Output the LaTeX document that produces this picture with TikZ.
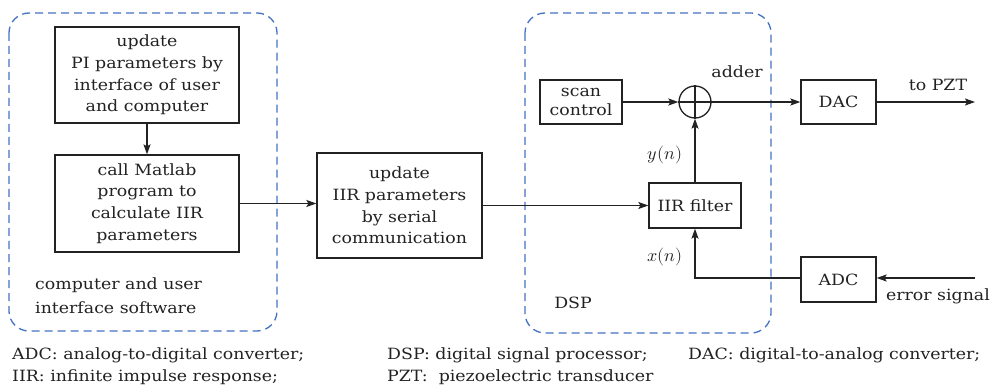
\documentclass[tikz,border=0pt]{standalone}
\usepackage{fontspec}
\setmainfont[FakeStretch=1.12]{DejaVu Serif}
\usepackage{unicode-math}
\setmathfont{Latin Modern Math}
\usetikzlibrary{arrows.meta}
\definecolor{dashblue}{HTML}{4472C4}
\definecolor{ink}{HTML}{222222}
\begin{document}
\begin{tikzpicture}[x=1pt,y=-1pt,
  every node/.style={font=\fontsize{15.5}{21.7}\selectfont, text=ink},
  blockbox/.style={draw=ink, line width=1.3pt, inner sep=0pt, align=center},
  conn/.style={draw=ink, line width=1.3pt, -{Stealth[length=10pt,width=7pt,inset=2pt]}},
  plainline/.style={draw=ink, line width=1.3pt},
  group/.style={draw=dashblue, line width=1.3pt, dash pattern=on 8pt off 5pt, rounded corners=20pt},
  lbl/.style={inner sep=0pt},
  legend/.style={inner sep=0pt, anchor=west, font=\fontsize{15.5}{20}\selectfont}]
\useasboundingbox (0,0) rectangle (992,387);
% groups
\draw[group] (9,13) rectangle (277,331);
\draw[group] (525,13) rectangle (771,333);
% blocks
\node[blockbox, minimum width=184pt, minimum height=96pt] (pi) at (147,75) {update\\PI parameters by\\interface of user\\and computer};
\node[blockbox, minimum width=184pt, minimum height=97pt] (mat) at (147,203.5) {call Matlab\\program to\\calculate IIR\\parameters};
\node[blockbox, minimum width=165pt, minimum height=105pt] (ser) at (399.5,205.5) {update\\IIR parameters\\by serial\\communication};
\node[blockbox, minimum width=82pt, minimum height=44pt, font=\fontsize{15.5}{18.5}\selectfont] (scan) at (581,102) {scan\\control};
\node[draw=ink, line width=1.3pt, circle, minimum size=32pt, inner sep=0pt] (add) at (695,102) {};
\draw[plainline] (add.north) -- (add.south) (add.west) -- (add.east);
\node[blockbox, minimum width=75pt, minimum height=44pt] (dac) at (838.5,102) {DAC};
\node[blockbox, minimum width=92pt, minimum height=45pt] (iir) at (695,205.5) {IIR filter};
\node[blockbox, minimum width=75pt, minimum height=45pt] (adc) at (838.5,279.5) {ADC};
\coordinate (pzt) at (975,102);
\coordinate (err) at (975,278);
\coordinate (corner) at (695,278);
% labels
\node[lbl, anchor=west, align=left, font=\fontsize{15.5}{24}\selectfont] (cu) at (35,296) {computer and user\\interface software};
\node[lbl] (dsp) at (573,303) {DSP};
\node[lbl] (adder) at (737,72) {adder};
\node[lbl] (topzt) at (938,85) {to PZT};
\node[lbl] (errs) at (938,296) {error signal};
\node[lbl, font=\fontsize{18}{20}\selectfont] (yn) at (665,155) {$y(n)$};
\node[lbl, font=\fontsize{18}{20}\selectfont] (xn) at (665,257) {$x(n)$};
% connectors
\draw[conn] (pi) -- (mat);
\draw[conn] (mat.east) -- (ser.west |- mat.east);
\draw[conn] (ser.east) -- (iir.west);
\draw[conn] (scan.east) -- (add.west);
\draw[conn] (add.east) -- (dac.west);
\draw[conn] (dac.east) -- (pzt);
\draw[conn] (iir.north) -- (add.south);
\draw[conn] (adc.west |- corner) -- (corner) -- (iir.south);
\draw[conn] (err) -- (adc.east |- err);
% legend
\node[legend] (l1) at (12,355) {ADC: analog-to-digital converter;};
\node[legend] (l2) at (387,355) {DSP: digital signal processor;};
\node[legend] (l3) at (688,355) {DAC: digital-to-analog converter;};
\node[legend] (l4) at (12,377) {IIR: infinite impulse response;};
\node[legend] (l5) at (387,377) {PZT:\ \ piezoelectric transducer};
\end{tikzpicture}
\end{document}
